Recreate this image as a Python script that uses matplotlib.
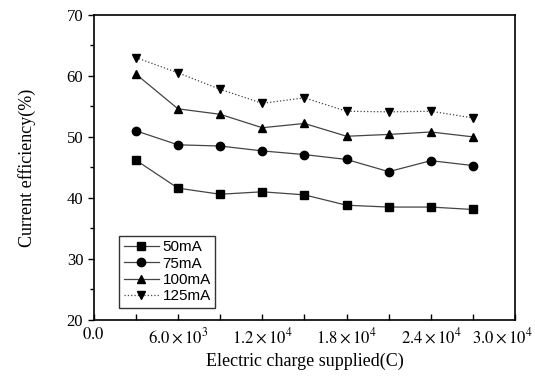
import matplotlib
matplotlib.use("Agg")
import matplotlib.pyplot as plt
from matplotlib.ticker import MultipleLocator, FixedLocator, FixedFormatter
import matplotlib.transforms as mtransforms

charge = [3000, 6000, 9000, 12000, 15000, 18000, 21000, 24000, 27000]
eff_50 = [46.2, 41.6, 40.6, 41.0, 40.5, 38.8, 38.5, 38.5, 38.1]
eff_75 = [51.0, 48.7, 48.5, 47.7, 47.1, 46.3, 44.3, 46.1, 45.3]
eff_100 = [60.3, 54.6, 53.7, 51.5, 52.2, 50.1, 50.4, 50.8, 50.0]
eff_125 = [63.0, 60.5, 57.8, 55.5, 56.4, 54.2, 54.1, 54.2, 53.1]
series_labels = ["50mA", "75mA", "100mA", "125mA"]
xtick_vals = [0, 6000, 12000, 18000, 24000, 30000]
xtick_labels = [r"$0.0$", r"$6.0\times10^{3}$", r"$1.2\times10^{4}$",
                r"$1.8\times10^{4}$", r"$2.4\times10^{4}$", r"$3.0\times10^{4}$"]

plt.rcParams['mathtext.fontset'] = 'stix'
serif = "Liberation Serif"
sans = "Liberation Sans"

fig = plt.figure(figsize=(5.35, 3.8), dpi=100)
ax = fig.add_axes([0.175, 0.158, 0.788, 0.803])

styles = [
    (eff_50, 's', '-'),
    (eff_75, 'o', '-'),
    (eff_100, '^', '-'),
    (eff_125, 'v', ':'),
]
for (vals, mk, ls), lab in zip(styles, series_labels):
    ax.plot(charge, vals, marker=mk, linestyle=ls, color='#444444', lw=0.9,
            markerfacecolor='black', markeredgecolor='black', markersize=6,
            label=lab)

ax.set_xlim(0, 30000)
ax.set_ylim(20, 70)
ax.xaxis.set_major_locator(FixedLocator(xtick_vals))
ax.xaxis.set_major_formatter(FixedFormatter(xtick_labels))
ax.xaxis.set_minor_locator(MultipleLocator(3000))
ax.yaxis.set_major_locator(MultipleLocator(10))
ax.yaxis.set_minor_locator(MultipleLocator(5))
ax.tick_params(axis='x', which='both', direction='in', length=4, width=1, pad=5)
ax.tick_params(axis='y', which='major', direction='out', length=4, width=1)
ax.tick_params(axis='y', which='minor', direction='out', length=3, width=1)
for lbl in ax.get_xticklabels() + ax.get_yticklabels():
    lbl.set_fontfamily(serif)
    lbl.set_fontsize(12)
xl = ax.get_xticklabels()
xl[-1].set_transform(xl[-1].get_transform() +
                     mtransforms.ScaledTranslation(-13 / 100, 0, fig.dpi_scale_trans))
for sp in ax.spines.values():
    sp.set_linewidth(1.2)

ax.set_xlabel("Electric charge supplied(C)", fontfamily=serif, fontsize=13, labelpad=4)
ax.set_ylabel("Current efficiency(%)", fontfamily=serif, fontsize=13, labelpad=22)

leg = ax.legend(loc='lower left', bbox_to_anchor=(0.06, 0.04), prop={'family': sans, 'size': 11},
                frameon=True, fancybox=False, edgecolor='black', handlelength=2.3,
                borderpad=0.3, labelspacing=0.15, handletextpad=0.25, borderaxespad=0)
leg.get_frame().set_linewidth(1.0)

fig.savefig("out.png", dpi=100)
